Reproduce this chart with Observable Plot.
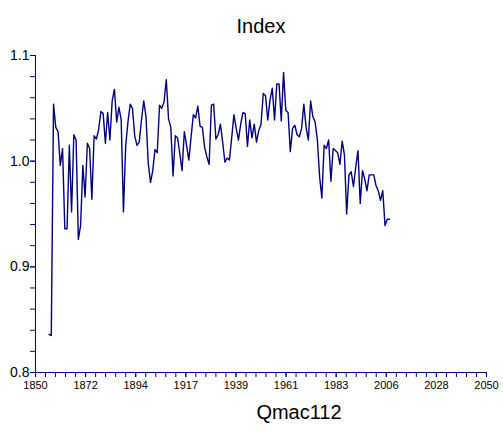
<!DOCTYPE html>
<html>
<head>
<meta charset="utf-8">
<script src="https://cdn.jsdelivr.net/npm/d3@7"></script>
<script src="https://cdn.jsdelivr.net/npm/@observablehq/plot@0.6"></script>
<style>
  html, body { margin: 0; padding: 0; background: #fff; }
  #chart svg { display: block; font-family: "Liberation Sans", Arial, sans-serif; }
</style>
</head>
<body>
<div id="chart"></div>
<script>
const title = "Index";
const seriesName = "Qmac112";
const startYear = 1856;
const values = [
  0.836, 0.835, 1.054, 1.032, 1.028, 0.996, 1.012, 0.936, 0.936, 1.015,
  0.952, 1.025, 1.020, 0.926, 0.939, 0.996, 0.966, 1.017, 1.012, 0.964,
  1.024, 1.021, 1.030, 1.047, 1.045, 1.017, 1.046, 1.020, 1.057, 1.068,
  1.037, 1.051, 1.039, 0.952, 1.015, 1.037, 1.054, 1.050, 1.024, 1.015,
  1.018, 1.039, 1.057, 1.042, 0.998, 0.980, 0.991, 1.011, 1.008, 1.053,
  1.050, 1.056, 1.077, 1.040, 1.032, 0.986, 1.024, 1.022, 1.007, 0.991,
  1.028, 1.015, 1.001, 1.023, 1.044, 1.041, 1.052, 1.033, 1.032, 1.013,
  1.004, 0.997, 1.053, 1.054, 1.021, 1.025, 1.035, 1.018, 0.999, 1.003,
  1.001, 1.022, 1.044, 1.031, 1.020, 1.035, 1.046, 1.045, 1.014, 1.039,
  1.022, 1.035, 1.018, 1.029, 1.035, 1.064, 1.062, 1.039, 1.058, 1.069,
  1.039, 1.073, 1.073, 1.038, 1.084, 1.048, 1.046, 1.009, 1.031, 1.034,
  1.025, 1.023, 1.031, 1.054, 1.032, 1.020, 1.057, 1.042, 1.037, 1.020,
  0.985, 0.965, 1.015, 1.012, 1.020, 0.981, 1.012, 1.010, 1.008, 0.997,
  1.019, 1.006, 0.950, 0.987, 0.990, 0.976, 0.994, 1.010, 0.960, 0.991,
  0.983, 0.972, 0.987, 0.987, 0.987, 0.977, 0.972, 0.963, 0.972, 0.939,
  0.945, 0.945
];
const years = values.map((_, i) => startYear + i);

const xDomain = [1850, 2050];
const yDomain = [0.8, 1.1];
const xTickLabels = ["1850", "1872", "1894", "1917", "1939", "1961", "1983", "2006", "2028", "2050"];
const yTickLabels = ["0.8", "0.9", "1.0", "1.1"];

const data = years.map((y, i) => ({year: y, value: values[i]}));

const xMajor = xTickLabels.map((_, i) => xDomain[0] + i * (xDomain[1] - xDomain[0]) / (xTickLabels.length - 1));
const xMinor = d3.range(0, 46).map(i => xDomain[0] + i * (xDomain[1] - xDomain[0]) / 45);
const yMajor = yTickLabels.map(Number);
const yMinor = d3.range(0, 16).map(i => +(0.8 + i * 0.02).toFixed(2));

const navy = "#000080";

const chart = Plot.plot({
  width: 503,
  height: 432,
  marginLeft: 35,
  marginRight: 17,
  marginTop: 55,
  marginBottom: 60,
  style: {fontFamily: "'Liberation Sans', Arial, sans-serif", background: "#fff", color: "#000"},
  x: {domain: xDomain, label: null},
  y: {domain: yDomain, label: null},
  marks: [
    Plot.axisX({ticks: xMinor, tickSize: 5, tickFormat: () => "", stroke: navy, strokeWidth: 1, strokeOpacity: 1}),
    Plot.axisX({ticks: xMajor, tickSize: 5, tickPadding: 4, tickFormat: (d, i) => xTickLabels[i], stroke: navy, fill: "#000", fontSize: 11, strokeOpacity: 1}),
    Plot.axisY({ticks: yMinor, tickSize: 5, tickFormat: () => "", stroke: navy, strokeOpacity: 1}),
    Plot.axisY({ticks: yMajor, tickSize: 5, tickPadding: 1, tickFormat: (d, i) => yTickLabels[i], stroke: navy, fill: "#000", fontSize: 14, strokeOpacity: 1}),
    Plot.ruleY([yDomain[0]], {stroke: navy, strokeWidth: 1}),
    Plot.ruleX([xDomain[0]], {stroke: navy, strokeWidth: 1}),
    Plot.line(data, {x: "year", y: "value", stroke: navy, strokeWidth: 1.4}),
    Plot.text([title], {frameAnchor: "top", dy: -37, fontSize: 20, fill: "#000", text: d => d}),
    Plot.text([seriesName], {frameAnchor: "bottom", dx: 38, dy: 46, fontSize: 20, fill: "#000", text: d => d})
  ]
});
document.getElementById("chart").appendChild(chart);
</script>
</body>
</html>
